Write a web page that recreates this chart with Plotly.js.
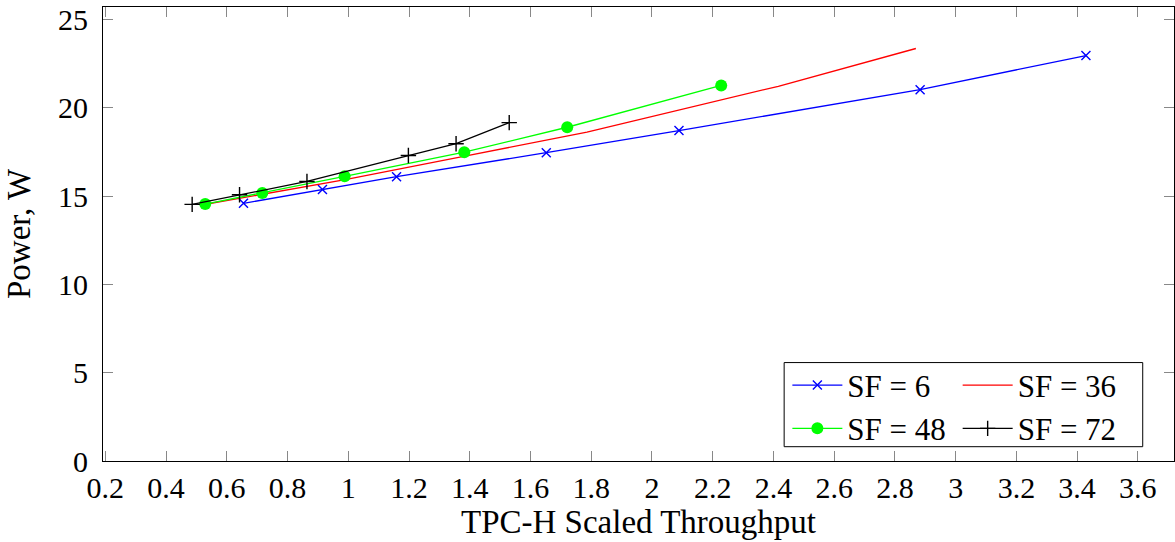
<!DOCTYPE html>
<html>
<head>
<meta charset="utf-8">
<script src="https://cdn.plot.ly/plotly-3.0.1.min.js"></script>
<style>
  html, body { margin: 0; padding: 0; background: #fff; }
  #chart { width: 1175px; height: 542px; }
</style>
</head>
<body>
<div id="chart"></div>
<script>
// ---- data ----
const seriesNames = ["SF = 6", "SF = 36", "SF = 48", "SF = 72"];

const sf6X  = [0.655, 0.915, 1.159, 1.652, 2.089, 2.883, 3.429];
const sf6Y  = [14.59, 15.38, 16.10, 17.46, 18.71, 21.03, 22.96];

const sf36X = [0.530, 0.720, 0.990, 1.380, 1.786, 2.416, 2.869];
const sf36Y = [14.54, 15.12, 15.93, 17.25, 18.63, 21.22, 23.36];

const sf48X = [0.529, 0.717, 0.988, 1.382, 1.721, 2.228];
const sf48Y = [14.55, 15.18, 16.12, 17.49, 18.90, 21.27];

const sf72X = [0.486, 0.642, 0.864, 1.198, 1.355, 1.530];
const sf72Y = [14.53, 15.08, 15.83, 17.30, 17.97, 19.16];

const xTickVals = [0.2, 0.4, 0.6, 0.8, 1, 1.2, 1.4, 1.6, 1.8, 2, 2.2, 2.4, 2.6, 2.8, 3, 3.2, 3.4, 3.6];
const xTickText = ["0.2","0.4","0.6","0.8","1","1.2","1.4","1.6","1.8","2","2.2","2.4","2.6","2.8","3","3.2","3.4","3.6"];
const yTickVals = [0, 5, 10, 15, 20, 25];
const yTickText = ["0", "5", "10", "15", "20", "25"];

const xTitle = "TPC-H Scaled Throughput";
const yTitle = "Power, W";

// ---- styling ----
const FONT = "Liberation Serif, Times New Roman, serif";
const FS = 30;
const TFS = 33;

const traces = [
  { x: sf6X, y: sf6Y, name: seriesNames[0], mode: "lines+markers", legend: "legend",
    line: { color: "#0000ff", width: 1.3 },
    marker: { symbol: "x-thin", size: 9, line: { color: "#0000ff", width: 1.4 } } },
  { x: sf36X, y: sf36Y, name: seriesNames[1], mode: "lines", legend: "legend2",
    line: { color: "#ff0000", width: 1.3 } },
  { x: sf48X, y: sf48Y, name: seriesNames[2], mode: "lines+markers", legend: "legend",
    line: { color: "#00ff00", width: 1.3 },
    marker: { symbol: "circle", size: 12, color: "#00ff00" } },
  { x: sf72X, y: sf72Y, name: seriesNames[3], mode: "lines+markers", legend: "legend2",
    line: { color: "#000000", width: 1.3 },
    marker: { symbol: "cross-thin", size: 11, line: { color: "#000000", width: 1.4 } } }
];

const axisCommon = {
  showgrid: false, zeroline: false,
  showline: true, linecolor: "#000", linewidth: 1, mirror: "ticks",
  ticks: "inside", ticklen: 10, tickwidth: 1, tickcolor: "#888",
  tickfont: { family: FONT, size: FS, color: "#000" },
  automargin: false
};

const legendCommon = {
  xanchor: "left", yanchor: "top",
  bgcolor: "rgba(0,0,0,0)", borderwidth: 0, traceorder: "normal",
  font: { family: FONT, size: 31, color: "#000" }, tracegroupgap: 0,
  itemwidth: 50
};

const layout = {
  width: 1175, height: 542,
  margin: { l: 103, r: 1, t: 7, b: 81 },
  paper_bgcolor: "#fff", plot_bgcolor: "#fff",
  font: { family: FONT, size: FS, color: "#000" },
  xaxis: Object.assign({}, axisCommon, {
    range: [0.1924, 3.719],
    tickmode: "array", tickvals: xTickVals, ticktext: xTickText,
    ticklabelstandoff: 0,
    title: { text: xTitle, font: { family: FONT, size: TFS }, standoff: 5 }
  }),
  yaxis: Object.assign({}, axisCommon, {
    range: [0, 25.71],
    tickmode: "array", tickvals: yTickVals, ticktext: yTickText,
    ticklabelstandoff: 8,
    title: { text: yTitle, font: { family: FONT, size: TFS }, standoff: 17 }
  }),
  showlegend: true,
  legend: Object.assign({}, legendCommon, { x: 0.639, y: 0.226 }),
  legend2: Object.assign({}, legendCommon, { x: 0.798, y: 0.226 }),
  shapes: [
    { type: "rect", xref: "paper", yref: "paper",
      x0: 0.636, x1: 0.9708, y0: 0.0315, y1: 0.2168,
      line: { color: "#000", width: 1 }, fillcolor: "rgba(255,255,255,1)", layer: "below" }
  ]
};

Plotly.newPlot("chart", traces, layout, { displayModeBar: false, staticPlot: true });
</script>
</body>
</html>
